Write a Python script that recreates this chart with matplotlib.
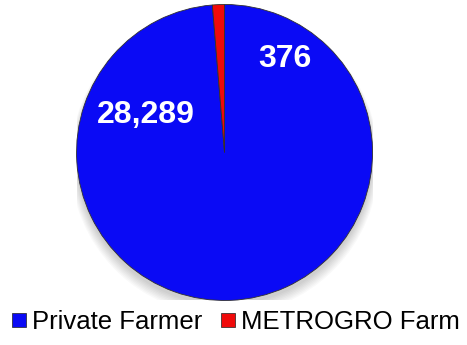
import matplotlib.pyplot as plt
from matplotlib.lines import Line2D
from matplotlib.patches import Circle

plt.rcParams["font.family"] = ["Liberation Sans", "DejaVu Sans"]

categories = ["Private Farmer", "METROGRO Farm"]
counts = [28289, 376]
colors = ["#0a0af5", "#f00a0a"]
# label anchor points inside the pie (data coords, radius 1)
label_xy = [(-0.535, 0.25), (0.41, 0.63)]

fig = plt.figure(figsize=(4.67, 3.45), dpi=100)
ax = fig.add_axes([0.1638, 0.129, 0.634, 0.858])

# soft drop shadow under the pie
for i in range(8):
    ax.add_patch(Circle((0.0, -0.03 - i * 0.004), 1.0 + i * 0.006, color="black",
                        alpha=0.025, zorder=0, lw=0))

wedges, _ = ax.pie(counts, colors=colors, startangle=90, counterclock=False,
                   radius=1.0, wedgeprops=dict(edgecolor="#303030", linewidth=0.6))
for w in wedges:
    w.set_zorder(2)

for value, (x, y) in zip(counts, label_xy):
    ax.text(x, y, f"{value:,}", color="white", fontsize=23, fontweight="bold",
            ha="center", va="center", zorder=3)

ax.set_xlim(-1.0, 1.0)
ax.set_ylim(-1.0, 1.0)
ax.set_aspect("equal")
ax.axis("off")

handles = [Line2D([], [], marker="s", linestyle="none", markersize=9.5,
                  markerfacecolor=c, markeredgecolor="#202020", markeredgewidth=0.5)
           for c in colors]
fig.legend(handles, categories, loc="lower center", bbox_to_anchor=(0.505, -0.035),
           ncol=2, frameon=False, fontsize=18.5, handlelength=0.6, handletextpad=0.2,
           columnspacing=0.7)

fig.savefig("out.png", dpi=100)
